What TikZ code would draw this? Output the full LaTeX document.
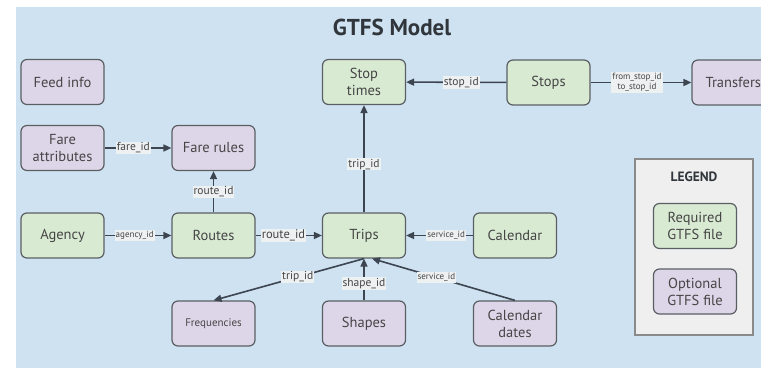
\documentclass[tikz,border=0pt]{standalone}
\usepackage{fontspec}
\setmainfont{PT Sans}
\usetikzlibrary{arrows.meta}
\definecolor{bg}{HTML}{CFE2F1}
\definecolor{reqfill}{HTML}{D9EAD3}
\definecolor{optfill}{HTML}{DDD5E8}
\definecolor{edgec}{HTML}{3C4550}
\definecolor{boxdraw}{HTML}{5A5F63}
\definecolor{txt}{HTML}{454545}
\definecolor{titlec}{HTML}{30363B}
\definecolor{lblbg}{HTML}{EEF1F2}
\definecolor{legfill}{HTML}{EFEFEF}
\definecolor{legdraw}{HTML}{8A8A8A}
\begin{document}
\begin{tikzpicture}[x=1pt,y=-1pt,
 box/.style={draw=boxdraw, line width=1.2pt, rounded corners=6pt, minimum width=83pt, minimum height=45pt, text=txt, font=\fontsize{14.5}{17}\selectfont, align=center, inner sep=0pt},
 req/.style={box, fill=reqfill},
 opt/.style={box, fill=optfill},
 conn/.style={draw=edgec, line width=1.6pt, -{Triangle[length=8pt,width=7pt]}},
 lbl/.style={fill=lblbg, text=txt, inner sep=1pt, font=\fontsize{11.5}{12}\selectfont},
 slbl/.style={fill=lblbg, text=txt, inner sep=1pt, font=\fontsize{9}{10}\selectfont},
]
\fill[white] (0,0) rectangle (761,368);
\fill[bg] (16,7) rectangle (761,368);
\useasboundingbox (0,0) rectangle (761,368);

\node[font=\bfseries\fontsize{23}{26}\selectfont, text=titlec] (title) at (392,27) {GTFS Model};

\node[opt] (feed) at (62.5,82) {Feed info};
\node[opt] (fareattr) at (62.5,148) {Fare\\attributes};
\node[opt] (farerules) at (213.5,148) {Fare rules};
\node[req] (stoptimes) at (364,82) {Stop\\times};
\node[req] (stops) at (548.5,82.5) {Stops};
\node[opt, text width=56pt, align=left] (transfers) at (733.5,82.5) {Transfers};
\node[req] (agency) at (62.5,235.5) {Agency};
\node[req] (routes) at (213.5,235.5) {Routes};
\node[req] (trips) at (364,235.5) {Trips};
\node[req] (calendar) at (515,235.5) {Calendar};
\node[opt, font=\fontsize{11}{13}\selectfont] (freq) at (213.5,323.5) {Frequencies};
\node[opt] (shapes) at (364,323.5) {Shapes};
\node[opt] (caldates) at (515,323.5) {Calendar\\dates};

\node[draw=legdraw, fill=legfill, line width=1.2pt, minimum width=118pt, minimum height=176pt, inner sep=0pt] (legend) at (694,247) {};
\node[font=\bfseries\fontsize{13.5}{15}\selectfont, text=titlec] (legtitle) at (694,177) {LEGEND};
\node[req] (legreq) at (695,226) {Required\\GTFS file};
\node[opt] (legopt) at (695,291.5) {Optional\\GTFS file};

\draw[conn] (fareattr) -- node[lbl, pos=0.43]{fare\_id} (farerules);
\draw[conn] (stops) -- node[lbl, pos=0.45]{stop\_id} (stoptimes);
\draw[conn] (stops) -- node[slbl, align=center, pos=0.46]{from\_stop\_id\\to\_stop\_id} (transfers);
\draw[conn] (routes) -- node[lbl]{route\_id} (farerules);
\draw[conn] (trips) -- node[lbl, pos=0.45]{trip\_id} (stoptimes);
\draw[conn] (agency) -- node[slbl, pos=0.45]{agency\_id} (routes);
\draw[conn] (routes) -- node[lbl, pos=0.42, font=\fontsize{12.5}{13}\selectfont]{route\_id} (trips);
\draw[conn] (calendar) -- node[slbl, pos=0.4]{service\_id} (trips);
\draw[conn] (trips.south) -- node[lbl, pos=0.44]{trip\_id} (freq.north);
\draw[conn] (shapes) -- node[lbl, pos=0.4]{shape\_id} (trips);
\draw[conn] (caldates.north) -- node[slbl, pos=0.55]{service\_id} ([xshift=8pt]trips.south);
\end{tikzpicture}
\end{document}
